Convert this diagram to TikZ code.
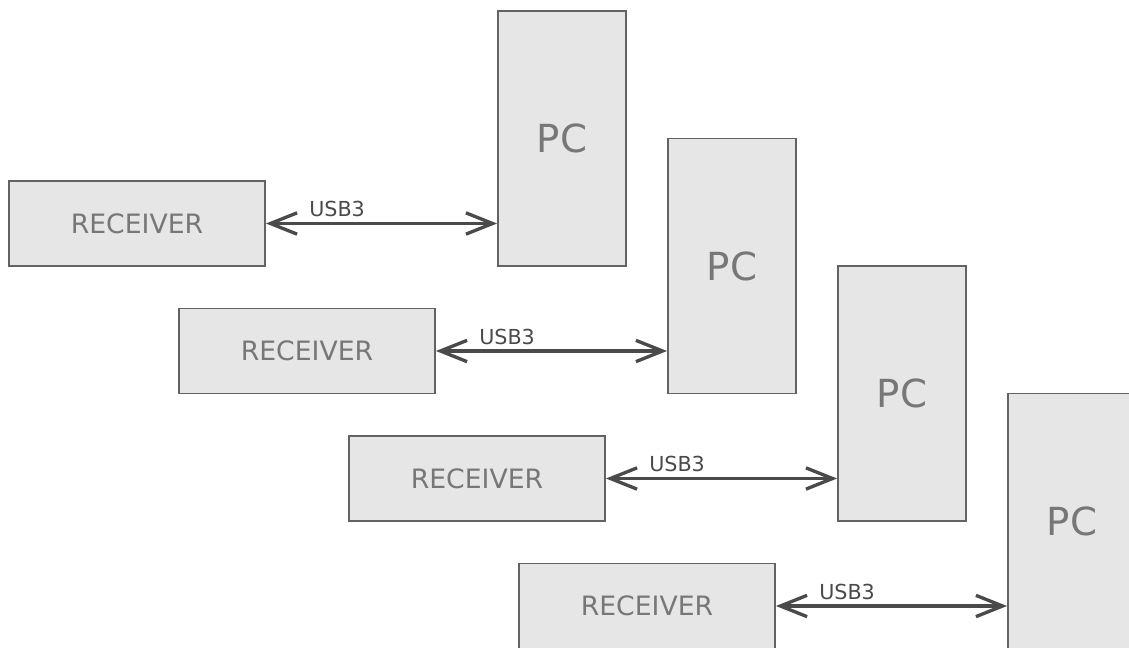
\documentclass[tikz,border=0pt]{standalone}
\usepackage{fontspec}
\setmainfont{DejaVu Sans}
\usetikzlibrary{arrows.meta}
\definecolor{boxfill}{HTML}{E6E6E6}
\definecolor{boxline}{HTML}{636363}
\definecolor{boxtext}{HTML}{777777}
\definecolor{wire}{HTML}{4A4A4A}
\begin{document}
\begin{tikzpicture}[x=0.75pt,y=-0.75pt,
  recvbox/.style={draw=boxline,fill=boxfill,line width=1.4pt,minimum width=192pt,minimum height=63.75pt,inner sep=0pt,text=boxtext,font=\fontsize{20}{24}\selectfont},
  pcbox/.style={draw=boxline,fill=boxfill,line width=1.4pt,minimum width=96pt,minimum height=191.25pt,inner sep=0pt,text=boxtext,font=\fontsize{29}{33}\selectfont},
  usb/.style={wire,line width=2.5pt,{Straight Barb[length=20pt,width=16pt,line width=2.5pt]}-{Straight Barb[length=20pt,width=16pt,line width=2.5pt]}},
  usblabel/.style={anchor=base west,inner sep=0pt,text=wire,font=\fontsize{15.5}{18}\selectfont}]
\useasboundingbox (0,0) rectangle (1129,648);
\clip (0,0) rectangle (1129,648);
\foreach \i in {0,1,2,3}{
  \node[recvbox] (r\i) at ({137+170*\i},{223.5+127.5*\i}) {RECEIVER};
  \node[pcbox] (p\i) at ({562+170*\i},{138.5+127.5*\i}) {PC};
  \draw[usb] (r\i.east) -- (r\i.east -| p\i.west);
  \node[usblabel] (l\i) at ({309+170*\i},{217+127.5*\i}) {USB3};
}
\end{tikzpicture}
\end{document}
